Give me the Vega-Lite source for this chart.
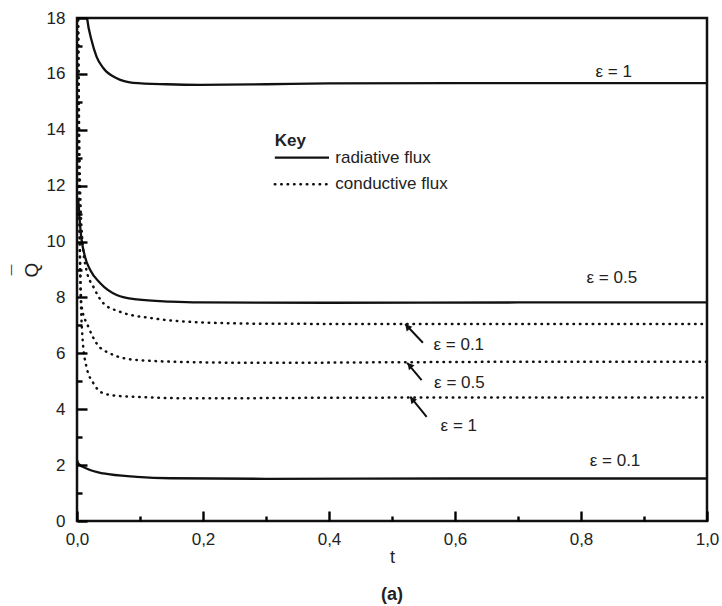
{
  "$schema": "https://vega.github.io/schema/vega-lite/v6.json",
  "width": 630,
  "height": 503,
  "autosize": "none",
  "padding": {"left": 77, "top": 18, "right": 15, "bottom": 85},
  "config": {
    "view": {"stroke": "#111", "strokeWidth": 2.5},
    "font": "Liberation Sans",
    "axis": {"grid": false, "labelFont": "Liberation Sans", "titleFont": "Liberation Sans", "labelColor": "#222", "titleColor": "#222", "domainColor": "#111"}
  },
  "title": {"text": "(a)", "orient": "bottom", "fontWeight": "bold", "fontSize": 18, "font": "Liberation Sans", "color": "#222", "offset": 20},
  "datasets": {
    "curves": [
      {"t": 0.005, "q": 22.0, "eps": "1", "kind": "radiative"},
      {"t": 0.010, "q": 19.5, "eps": "1", "kind": "radiative"},
      {"t": 0.016, "q": 18.0, "eps": "1", "kind": "radiative"},
      {"t": 0.023, "q": 17.21, "eps": "1", "kind": "radiative"},
      {"t": 0.031, "q": 16.62, "eps": "1", "kind": "radiative"},
      {"t": 0.042, "q": 16.2, "eps": "1", "kind": "radiative"},
      {"t": 0.063, "q": 15.84, "eps": "1", "kind": "radiative"},
      {"t": 0.089, "q": 15.68, "eps": "1", "kind": "radiative"},
      {"t": 0.142, "q": 15.63, "eps": "1", "kind": "radiative"},
      {"t": 0.195, "q": 15.61, "eps": "1", "kind": "radiative"},
      {"t": 0.3, "q": 15.63, "eps": "1", "kind": "radiative"},
      {"t": 0.4, "q": 15.66, "eps": "1", "kind": "radiative"},
      {"t": 0.6, "q": 15.67, "eps": "1", "kind": "radiative"},
      {"t": 0.8, "q": 15.67, "eps": "1", "kind": "radiative"},
      {"t": 1.0, "q": 15.67, "eps": "1", "kind": "radiative"},
      {"t": 0.002, "q": 11.5, "eps": "0.5", "kind": "radiative"},
      {"t": 0.006, "q": 10.3, "eps": "0.5", "kind": "radiative"},
      {"t": 0.0127, "q": 9.46, "eps": "0.5", "kind": "radiative"},
      {"t": 0.021, "q": 8.98, "eps": "0.5", "kind": "radiative"},
      {"t": 0.037, "q": 8.51, "eps": "0.5", "kind": "radiative"},
      {"t": 0.063, "q": 8.09, "eps": "0.5", "kind": "radiative"},
      {"t": 0.095, "q": 7.93, "eps": "0.5", "kind": "radiative"},
      {"t": 0.148, "q": 7.85, "eps": "0.5", "kind": "radiative"},
      {"t": 0.195, "q": 7.82, "eps": "0.5", "kind": "radiative"},
      {"t": 0.4, "q": 7.81, "eps": "0.5", "kind": "radiative"},
      {"t": 0.7, "q": 7.82, "eps": "0.5", "kind": "radiative"},
      {"t": 1.0, "q": 7.82, "eps": "0.5", "kind": "radiative"},
      {"t": 0.0, "q": 2.18, "eps": "0.1", "kind": "radiative"},
      {"t": 0.002, "q": 2.06, "eps": "0.1", "kind": "radiative"},
      {"t": 0.015, "q": 1.88, "eps": "0.1", "kind": "radiative"},
      {"t": 0.042, "q": 1.70, "eps": "0.1", "kind": "radiative"},
      {"t": 0.095, "q": 1.58, "eps": "0.1", "kind": "radiative"},
      {"t": 0.148, "q": 1.53, "eps": "0.1", "kind": "radiative"},
      {"t": 0.3, "q": 1.51, "eps": "0.1", "kind": "radiative"},
      {"t": 0.6, "q": 1.52, "eps": "0.1", "kind": "radiative"},
      {"t": 1.0, "q": 1.52, "eps": "0.1", "kind": "radiative"},
      {"t": 0.001, "q": 20.0, "eps": "0.1", "kind": "conductive"},
      {"t": 0.004, "q": 13.0, "eps": "0.1", "kind": "conductive"},
      {"t": 0.008, "q": 10.2, "eps": "0.1", "kind": "conductive"},
      {"t": 0.015, "q": 8.98, "eps": "0.1", "kind": "conductive"},
      {"t": 0.026, "q": 8.38, "eps": "0.1", "kind": "conductive"},
      {"t": 0.042, "q": 7.79, "eps": "0.1", "kind": "conductive"},
      {"t": 0.068, "q": 7.49, "eps": "0.1", "kind": "conductive"},
      {"t": 0.121, "q": 7.25, "eps": "0.1", "kind": "conductive"},
      {"t": 0.195, "q": 7.11, "eps": "0.1", "kind": "conductive"},
      {"t": 0.3, "q": 7.06, "eps": "0.1", "kind": "conductive"},
      {"t": 0.5, "q": 7.05, "eps": "0.1", "kind": "conductive"},
      {"t": 0.75, "q": 7.05, "eps": "0.1", "kind": "conductive"},
      {"t": 1.0, "q": 7.05, "eps": "0.1", "kind": "conductive"},
      {"t": 0.001, "q": 20.0, "eps": "0.5", "kind": "conductive"},
      {"t": 0.004, "q": 10.5, "eps": "0.5", "kind": "conductive"},
      {"t": 0.0074, "q": 7.67, "eps": "0.5", "kind": "conductive"},
      {"t": 0.018, "q": 6.95, "eps": "0.5", "kind": "conductive"},
      {"t": 0.031, "q": 6.36, "eps": "0.5", "kind": "conductive"},
      {"t": 0.052, "q": 6.0, "eps": "0.5", "kind": "conductive"},
      {"t": 0.095, "q": 5.76, "eps": "0.5", "kind": "conductive"},
      {"t": 0.195, "q": 5.68, "eps": "0.5", "kind": "conductive"},
      {"t": 0.3, "q": 5.66, "eps": "0.5", "kind": "conductive"},
      {"t": 0.5, "q": 5.68, "eps": "0.5", "kind": "conductive"},
      {"t": 0.75, "q": 5.70, "eps": "0.5", "kind": "conductive"},
      {"t": 1.0, "q": 5.70, "eps": "0.5", "kind": "conductive"},
      {"t": 0.001, "q": 20.0, "eps": "1", "kind": "conductive"},
      {"t": 0.005, "q": 9.0, "eps": "1", "kind": "conductive"},
      {"t": 0.009, "q": 6.48, "eps": "1", "kind": "conductive"},
      {"t": 0.015, "q": 5.52, "eps": "1", "kind": "conductive"},
      {"t": 0.026, "q": 4.93, "eps": "1", "kind": "conductive"},
      {"t": 0.042, "q": 4.57, "eps": "1", "kind": "conductive"},
      {"t": 0.068, "q": 4.47, "eps": "1", "kind": "conductive"},
      {"t": 0.195, "q": 4.39, "eps": "1", "kind": "conductive"},
      {"t": 0.4, "q": 4.41, "eps": "1", "kind": "conductive"},
      {"t": 0.7, "q": 4.42, "eps": "1", "kind": "conductive"},
      {"t": 1.0, "q": 4.42, "eps": "1", "kind": "conductive"}
    ],
    "labels": [
      {"t": 0.852, "q": 16.07, "label": "ε = 1"},
      {"t": 0.849, "q": 8.69, "label": "ε = 0.5"},
      {"t": 0.854, "q": 2.14, "label": "ε = 0.1"},
      {"t": 0.606, "q": 6.30, "label": "ε = 0.1"},
      {"t": 0.607, "q": 4.95, "label": "ε = 0.5"},
      {"t": 0.606, "q": 3.40, "label": "ε = 1"}
    ],
    "arrows": [
      {"t": 0.549, "q": 6.38, "t2": 0.521, "q2": 7.05, "th": 0.5244, "qh": 6.955},
      {"t": 0.547, "q": 5.04, "t2": 0.524, "q2": 5.66, "th": 0.528, "qh": 5.57},
      {"t": 0.555, "q": 3.73, "t2": 0.529, "q2": 4.45, "th": 0.532, "qh": 4.35}
    ],
    "key": [
      {"t": 0.314, "t2": 0.400, "q": 13.0, "kind": "radiative", "label": "radiative flux", "tl": 0.41},
      {"t": 0.314, "t2": 0.397, "q": 12.05, "kind": "conductive", "label": "conductive flux", "tl": 0.41}
    ],
    "keytitle": [
      {"t": 0.314, "q": 13.61, "label": "Key"}
    ]
  },
  "layer": [
    {
      "data": {"name": "curves"},
      "transform": [{"filter": "datum.kind === 'radiative'"}],
      "mark": {"type": "line", "interpolate": "monotone", "clip": true, "color": "#111", "strokeWidth": 2.3},
      "encoding": {
        "x": {"field": "t", "type": "quantitative", "scale": {"domain": [0, 1], "nice": false, "zero": false},
          "axis": {"orient": "bottom", "offset": -10, "values": [0, 0.2, 0.4, 0.6, 0.8, 1.0], "labelExpr": "replace(format(datum.value, '.1f'), '.', ',')",
            "ticks": true, "tickSize": 10, "tickWidth": 2.4, "tickColor": "black", "tickOpacity": 1, "domain": false, "labelPadding": 10, "labelFontSize": 17, "labelFlush": false, "labelOverlap": false, "labelBound": false, "zindex": 2,
            "title": "t", "titleFontSize": 18, "titleFontWeight": "normal", "titleY": 46, "titleBaseline": "middle"}},
        "y": {"field": "q", "type": "quantitative", "scale": {"domain": [0, 18], "nice": false, "zero": false},
          "axis": {"orient": "left", "offset": -10, "values": [0, 2, 4, 6, 8, 10, 12, 14, 16, 18], "ticks": true, "tickSize": 10, "tickWidth": 2.4, "tickColor": "black", "tickOpacity": 1, "domain": false, "labelPadding": 12, "labelFontSize": 17, "labelFlush": false, "labelOverlap": false, "labelBound": false, "zindex": 2,
            "title": ["¯", "Q"], "titleFontSize": 19, "titleFontWeight": "normal", "titleLineHeight": 13, "titleAngle": -90, "titleX": -63, "titleY": 251.5, "titleAlign": "center", "titleBaseline": "alphabetic"}},
        "detail": {"field": "eps"}
      }
    },
    {
      "data": {"name": "curves"},
      "transform": [{"filter": "datum.kind === 'conductive'"}],
      "mark": {"type": "line", "interpolate": "monotone", "clip": true, "color": "#111", "strokeWidth": 2.5, "strokeDash": [0.5, 5.9], "strokeCap": "round"},
      "encoding": {
        "x": {"field": "t", "type": "quantitative", "scale": {"domain": [0, 1], "nice": false, "zero": false},
          "axis": {"orient": "bottom", "offset": -5, "values": [0.1, 0.3, 0.5, 0.7, 0.9], "ticks": true, "tickSize": 5, "tickWidth": 2.4, "tickColor": "black", "tickOpacity": 1, "labels": false, "domain": false, "title": null, "zindex": 2}},
        "y": {"field": "q", "type": "quantitative", "scale": {"domain": [0, 18], "nice": false, "zero": false},
          "axis": {"orient": "left", "offset": -5, "values": [1, 3, 5, 7, 9, 11, 13, 15, 17], "ticks": true, "tickSize": 5, "tickWidth": 2.4, "tickColor": "black", "tickOpacity": 1, "labels": false, "domain": false, "title": null, "zindex": 2}},
        "detail": {"field": "eps"}
      }
    },
    {
      "data": {"name": "labels"},
      "mark": {"type": "text", "fontSize": 17, "font": "Liberation Sans", "color": "#222", "align": "center", "baseline": "middle"},
      "encoding": {
        "x": {"field": "t", "type": "quantitative", "scale": {"domain": [0, 1], "nice": false, "zero": false}, "axis": null},
        "y": {"field": "q", "type": "quantitative", "scale": {"domain": [0, 18], "nice": false, "zero": false}, "axis": null},
        "text": {"field": "label"}
      }
    },
    {
      "data": {"name": "arrows"},
      "mark": {"type": "rule", "color": "#111", "strokeWidth": 2},
      "encoding": {
        "x": {"field": "t", "type": "quantitative", "scale": {"domain": [0, 1], "nice": false, "zero": false}, "axis": null},
        "y": {"field": "q", "type": "quantitative", "scale": {"domain": [0, 18], "nice": false, "zero": false}, "axis": null},
        "x2": {"field": "t2"},
        "y2": {"field": "q2"}
      }
    },
    {
      "data": {"name": "arrows"},
      "mark": {"type": "point", "shape": "triangle-up", "filled": true, "color": "#111", "size": 55, "angle": 319, "opacity": 1},
      "encoding": {
        "x": {"field": "th", "type": "quantitative", "scale": {"domain": [0, 1], "nice": false, "zero": false}, "axis": null},
        "y": {"field": "qh", "type": "quantitative", "scale": {"domain": [0, 18], "nice": false, "zero": false}, "axis": null}
      }
    },
    {
      "data": {"name": "key"},
      "transform": [{"filter": "datum.kind === 'radiative'"}],
      "mark": {"type": "rule", "color": "#111", "strokeWidth": 2.3},
      "encoding": {
        "x": {"field": "t", "type": "quantitative", "scale": {"domain": [0, 1], "nice": false, "zero": false}, "axis": null},
        "x2": {"field": "t2"},
        "y": {"field": "q", "type": "quantitative", "scale": {"domain": [0, 18], "nice": false, "zero": false}, "axis": null}
      }
    },
    {
      "data": {"name": "key"},
      "transform": [{"filter": "datum.kind === 'conductive'"}],
      "mark": {"type": "rule", "color": "#111", "strokeWidth": 2.5, "strokeDash": [0.5, 5.9], "strokeCap": "round"},
      "encoding": {
        "x": {"field": "t", "type": "quantitative", "scale": {"domain": [0, 1], "nice": false, "zero": false}, "axis": null},
        "x2": {"field": "t2"},
        "y": {"field": "q", "type": "quantitative", "scale": {"domain": [0, 18], "nice": false, "zero": false}, "axis": null}
      }
    },
    {
      "data": {"name": "key"},
      "mark": {"type": "text", "fontSize": 17, "font": "Liberation Sans", "color": "#222", "align": "left", "baseline": "middle"},
      "encoding": {
        "x": {"field": "tl", "type": "quantitative", "scale": {"domain": [0, 1], "nice": false, "zero": false}, "axis": null},
        "y": {"field": "q", "type": "quantitative", "scale": {"domain": [0, 18], "nice": false, "zero": false}, "axis": null},
        "text": {"field": "label"}
      }
    },
    {
      "data": {"name": "keytitle"},
      "mark": {"type": "text", "fontSize": 17, "fontWeight": "bold", "font": "Liberation Sans", "color": "#222", "align": "left", "baseline": "middle"},
      "encoding": {
        "x": {"field": "t", "type": "quantitative", "scale": {"domain": [0, 1], "nice": false, "zero": false}, "axis": null},
        "y": {"field": "q", "type": "quantitative", "scale": {"domain": [0, 18], "nice": false, "zero": false}, "axis": null},
        "text": {"field": "label"}
      }
    }
  ],
  "resolve": {"axis": {"x": "independent", "y": "independent"}}
}
